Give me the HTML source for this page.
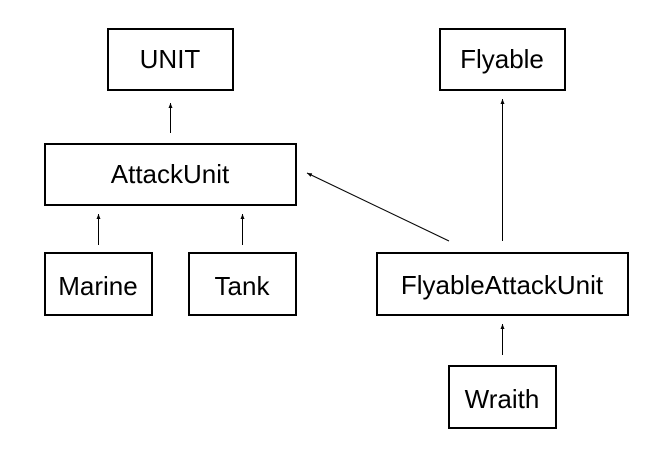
<!DOCTYPE html>
<html><head><style>body{margin:0;background:#fff}</style></head><body>
<svg width="664" height="444" xmlns="http://www.w3.org/2000/svg" font-family="Liberation Sans, sans-serif" font-size="26">
<defs><marker id="a" markerWidth="6" markerHeight="6" refX="5" refY="3" orient="auto"><path d="M0,1 L5,3 L0,5 z" fill="#000"/></marker></defs>
<g fill="none" stroke="#000" stroke-width="2">
<rect x="108" y="29" width="125" height="61"/>
<rect x="45" y="144" width="251" height="61"/>
<rect x="45" y="253" width="107" height="62"/>
<rect x="189" y="253" width="107" height="62"/>
<rect x="440" y="29" width="125" height="61"/>
<rect x="377" y="253" width="251" height="62"/>
<rect x="449" y="366" width="107" height="62"/>
</g>
<g stroke="#000" stroke-width="1" marker-end="url(#a)">
<line x1="170.5" y1="133" x2="170.5" y2="103"/>
<line x1="98.5" y1="245" x2="98.5" y2="214"/>
<line x1="242.5" y1="245" x2="242.5" y2="214"/>
<line x1="502.5" y1="241" x2="502.5" y2="99"/>
<line x1="502.5" y1="355" x2="502.5" y2="324"/>
<line x1="449" y1="241" x2="307" y2="173"/>
</g>
<g text-anchor="middle" fill="#000">
<text x="170" y="68">UNIT</text>
<text x="170" y="183">AttackUnit</text>
<text x="98" y="295">Marine</text>
<text x="242" y="295">Tank</text>
<text x="502" y="68">Flyable</text>
<text x="502" y="294">FlyableAttackUnit</text>
<text x="502" y="408">Wraith</text>
</g>
</svg>
</body></html>
